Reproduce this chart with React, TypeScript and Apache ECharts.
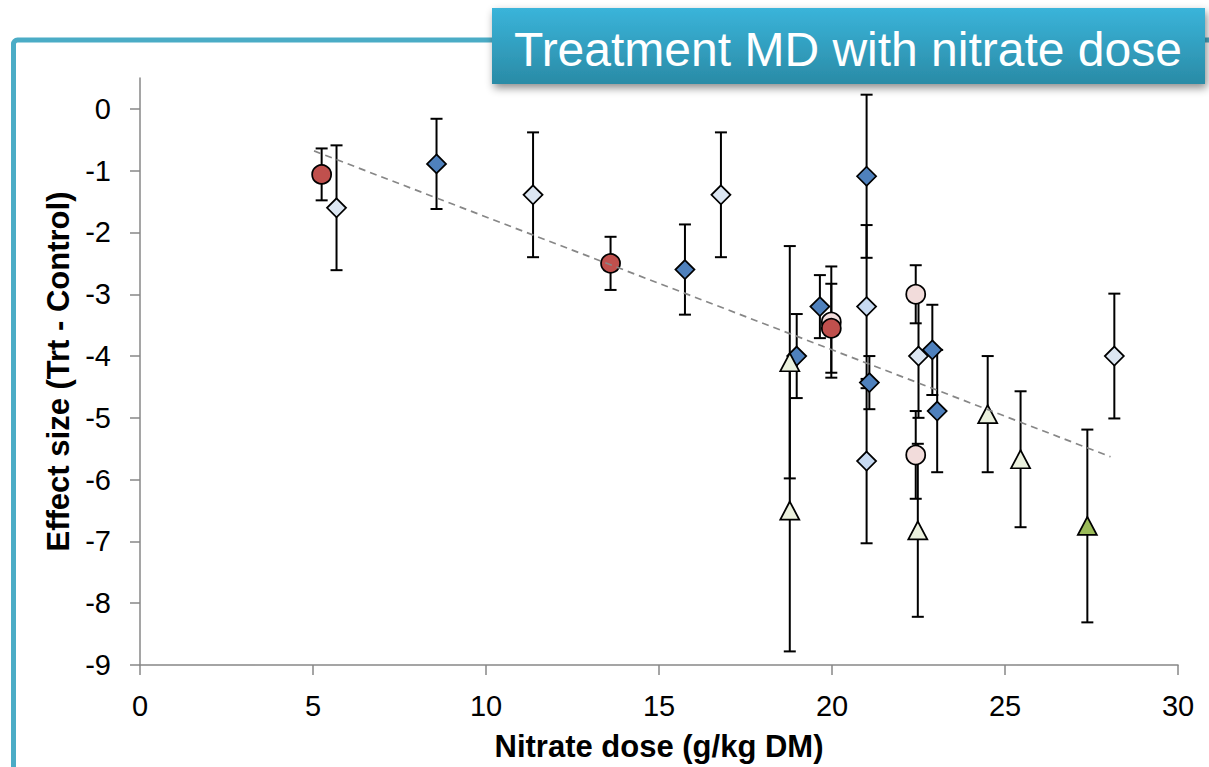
import React, { useEffect, useRef } from "react";
import * as echarts from "echarts";

type Pt = [number, number, number]; // [dose, effect, error half-width]

const blueDiamonds: Pt[] = [
  [8.57, -0.89, 0.73],
  [15.75, -2.6, 0.73],
  [18.98, -4.0, 0.68],
  [19.65, -3.2, 0.51],
  [21.0, -1.09, 1.32],
  [21.08, -4.43, 0.43],
  [22.9, -3.9, 0.73],
  [23.04, -4.89, 0.99],
];
const paleDiamonds: Pt[] = [
  [5.68, -1.6, 1.01],
  [11.36, -1.39, 1.01],
  [16.79, -1.39, 1.01],
  [22.5, -4.0, 1.0],
  [28.16, -4.0, 1.01],
];
const skyDiamonds: Pt[] = [
  [21.0, -3.2, 1.32],
  [21.0, -5.7, 1.33],
];
const pinkCircles: Pt[] = [
  [19.98, -3.45, 0.9],
  [22.42, -3.0, 0.47],
  [22.42, -5.6, 0.71],
];
const redCircles: Pt[] = [
  [5.25, -1.06, 0.42],
  [13.6, -2.5, 0.43],
  [19.98, -3.55, 0.72],
];
const paleTriangles: Pt[] = [
  [18.78, -4.1, 1.88],
  [18.78, -6.5, 2.28],
  [22.48, -6.82, 1.4],
  [24.5, -4.94, 0.94],
  [25.45, -5.67, 1.1],
];
const greenTriangles: Pt[] = [[27.38, -6.75, 1.56]];

const trendX = [5.03, 28.05];
const trendY = [-0.68, -5.63];

const xTicks = [0, 5, 10, 15, 20, 25, 30];
const yTicks = [-9, -8, -7, -6, -5, -4, -3, -2, -1, 0];

const titleText = "Treatment MD with nitrate dose";
const xName = "Nitrate dose (g/kg DM)";
const yName = "Effect size (Trt - Control)";

export default function App() {
  const ref = useRef<HTMLDivElement>(null);

  useEffect(() => {
    if (!ref.current) return;
    const chart = echarts.init(ref.current, null, { renderer: "svg" });
    const font = "'Liberation Sans', Arial, Helvetica, sans-serif";

    const groups = [
      { pts: blueDiamonds, symbol: "diamond", size: 19, color: "#4F81BD" },
      { pts: paleDiamonds, symbol: "diamond", size: 19, color: "#DCE6F2" },
      { pts: skyDiamonds, symbol: "diamond", size: 19, color: "#C6D9F1" },
      { pts: pinkCircles, symbol: "circle", size: 19, color: "#F2DCDB" },
      { pts: redCircles, symbol: "circle", size: 19, color: "#C0504D" },
      { pts: paleTriangles, symbol: "triangle", size: [19, 18], color: "#EBF1DE" },
      { pts: greenTriangles, symbol: "triangle", size: [19, 18], color: "#9BBB59" },
    ];

    const allPts = groups.flatMap((g) => g.pts);

    const errorSeries: any = {
      type: "custom",
      silent: true,
      z: 2,
      data: allPts.map(([x, y, e]) => [x, y - e, y + e]),
      encode: { x: 0, y: [1, 2] },
      renderItem: (_params: any, api: any) => {
        const x = api.value(0);
        const lo = api.value(1);
        const hi = api.value(2);
        const pHi = api.coord([x, hi]);
        const pLo = api.coord([x, lo]);
        const cap = 6;
        const style = { stroke: "#000", lineWidth: 2 };
        return {
          type: "group",
          children: [
            { type: "line", shape: { x1: pHi[0], y1: pHi[1], x2: pLo[0], y2: pLo[1] }, style },
            { type: "line", shape: { x1: pHi[0] - cap, y1: pHi[1], x2: pHi[0] + cap, y2: pHi[1] }, style },
            { type: "line", shape: { x1: pLo[0] - cap, y1: pLo[1], x2: pLo[0] + cap, y2: pLo[1] }, style },
          ],
        };
      },
    };

    const scatterSeries = groups.map((g, i) => ({
      type: "scatter",
      z: 3 + i * 0.01,
      symbol: g.symbol,
      symbolSize: g.size,
      data: g.pts.map(([x, y]) => [x, y]),
      itemStyle: { color: g.color, borderColor: "#000", borderWidth: 1.75, opacity: 1 },
      emphasis: { disabled: true },
    }));

    const trendSeries: any = {
      type: "line",
      z: 5,
      symbol: "none",
      silent: true,
      data: trendX.map((x, i) => [x, trendY[i]]),
      lineStyle: { color: "#878787", width: 1.7, type: [7, 5] },
    };

    const axisColor = "#878787";

    chart.setOption({
      animation: false,
      backgroundColor: "#fff",
      grid: { left: 140, right: 31, top: 78, bottom: 98, containLabel: false },
      xAxis: {
        type: "value",
        min: 0,
        max: 30,
        interval: 5,
        name: xName,
        nameLocation: "middle",
        nameGap: 66,
        nameTextStyle: { fontFamily: font, fontSize: 31, fontWeight: "bold", color: "#000" },
        axisLine: { onZero: false, lineStyle: { color: axisColor, width: 1.5 } },
        axisTick: { show: true, inside: false, length: 10, lineStyle: { color: axisColor, width: 1.5 }, customValues: xTicks },
        axisLabel: { fontFamily: font, fontSize: 29, color: "#000", margin: 26, customValues: xTicks },
        splitLine: { show: false },
      },
      yAxis: {
        type: "value",
        min: -9,
        max: 0.5,
        interval: 1,
        name: yName,
        nameLocation: "middle",
        nameRotate: 90,
        nameGap: 64,
        nameTextStyle: { fontFamily: font, fontSize: 31, fontWeight: "bold", color: "#000" },
        axisLine: { show: true, onZero: false, lineStyle: { color: axisColor, width: 1.5 } },
        axisTick: { show: true, inside: false, length: 10, lineStyle: { color: axisColor, width: 1.5 }, customValues: yTicks },
        axisLabel: { fontFamily: font, fontSize: 29, color: "#000", margin: 29, customValues: yTicks },
        splitLine: { show: false },
      },
      graphic: [
        {
          type: "rect",
          z: -10,
          silent: true,
          shape: { x: 13.5, y: 40, width: 1400, height: 1000, r: 4 },
          style: { fill: "none", stroke: "#4BACC6", lineWidth: 5 },
        },
        {
          type: "rect",
          z: 100,
          silent: true,
          shape: { x: 492, y: 8, width: 713, height: 76 },
          style: {
            fill: new echarts.graphic.LinearGradient(0, 0, 0, 1, [
              { offset: 0, color: "#3AB4DA" },
              { offset: 1, color: "#2A8BA6" },
            ]),
            shadowBlur: 8,
            shadowOffsetX: 2,
            shadowOffsetY: 4,
            shadowColor: "rgba(0,0,0,0.45)",
          },
        },
        {
          type: "text",
          z: 101,
          silent: true,
          x: 848,
          y: 49,
          style: {
            text: titleText,
            fontFamily: font,
            fontSize: 48,
            fill: "#fff",
            align: "center",
            verticalAlign: "middle",
            textAlign: "center",
            textVerticalAlign: "middle",
          } as any,
        },
      ],
      series: [errorSeries, ...scatterSeries, trendSeries],
    } as any);

    return () => chart.dispose();
  }, []);

  return (
    <div
      ref={ref}
      style={{ position: "absolute", left: 0, top: 0, width: 1209, height: 767 }}
    />
  );
}
